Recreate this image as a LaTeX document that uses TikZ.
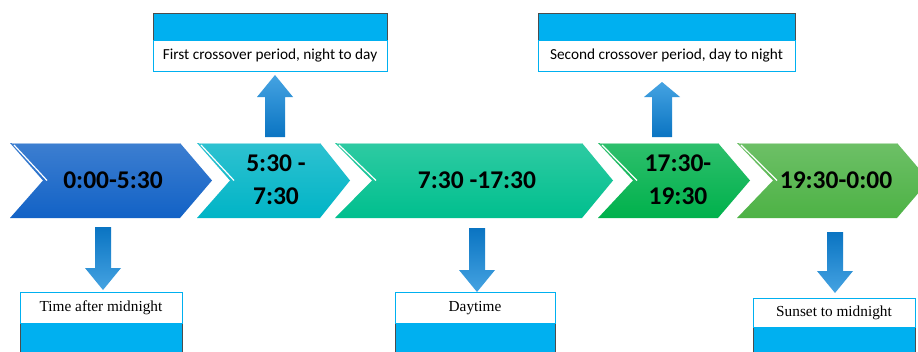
\documentclass[tikz,border=0pt]{standalone}
\usepackage{fontspec}
\setmainfont{Carlito}
\newfontfamily\serifnote{Liberation Serif}
\definecolor{chevA}{HTML}{1262C6}
\definecolor{chevB}{HTML}{00B4C6}
\definecolor{chevC}{HTML}{00BF8E}
\definecolor{chevD}{HTML}{00B14C}
\definecolor{chevE}{HTML}{4DB245}
\definecolor{barblue}{HTML}{00B0F0}
\definecolor{arrowlight}{HTML}{45A3E2}
\definecolor{arrowdark}{HTML}{0A74C2}
\begin{document}
\begin{tikzpicture}[x=1pt,y=-1pt,font=\fontsize{15.3}{18}\selectfont,
  periodtext/.style={font=\fontsize{25.5}{33}\selectfont\bfseries,align=center,inner sep=0pt},
  notebox/.style={draw=barblue,fill=white,line width=0.8pt,minimum height=31pt,inner sep=0pt},
  notebar/.style={draw=black!70,fill=barblue,line width=0.5pt}]
\clip(0,0)rectangle(918,351);
\fill[white](0,0)rectangle(918,351);
% chevrons
\foreach \l/\n/\r/\t/\c in {10/43/180/212/chevA,197/230/320/350/chevB,335/372/582/613/chevC,598/633/718/750/chevD,737/773/897/929/chevE}{
  \path[top color=\c!82!white,bottom color=\c](\l,143)--(\r,143)--(\t,180.5)--(\r,218)--(\l,218)--(\n,180.5)--cycle;
  \draw[white,line width=1.2pt](\l+4,145)--(\n+4,180.5);
  \draw[\c!40!white,line width=0.8pt](\l+2,143.5)--(\r,143.5);
}
\node[periodtext](p1)at(113,180){0:00-5:30};
\node[periodtext](p2)at(276,180){5:30 -\\7:30};
\node[periodtext](p3)at(477,180){7:30 -17:30};
\node[periodtext](p4)at(678,180){17:30-\\19:30};
\node[periodtext](p5)at(836,180){19:30-0:00};
% up arrows
\foreach \x/\tip in {275/75,662/82}{
  \path[top color=arrowlight,bottom color=arrowdark](\x-10,137)--(\x-10,97)--(\x-18,97)--(\x,\tip)--(\x+18,97)--(\x+10,97)--(\x+10,137)--cycle;
}
% down arrows
\foreach \x/\top/\tip in {103/227/290,477/228/292,835/232/293}{
  \path[top color=arrowdark,bottom color=arrowlight](\x-8,\top)--(\x-8,\tip-22)--(\x-18,\tip-22)--(\x,\tip)--(\x+18,\tip-22)--(\x+8,\tip-22)--(\x+8,\top)--cycle;
}
% top notes
\draw[notebar](153,13)rectangle(387,40);
\node[notebox,minimum width=234pt](n1)at(270,56){First crossover period, night to day};
\draw[notebar](538,13)rectangle(795,40);
\node[notebox,minimum width=257pt](n2)at(666.5,56){Second crossover period, day to night};
% bottom notes
\draw[notebar](20,323)rectangle(182,360);
\node[notebox,minimum width=162pt,font=\serifnote\fontsize{15.3}{17}\selectfont](n3)at(101,308){Time after midnight};
\draw[notebar](395,323)rectangle(555,360);
\node[notebox,minimum width=160pt,font=\serifnote\fontsize{15.3}{17}\selectfont](n4)at(475,308){Daytime};
\draw[notebar](753,327)rectangle(915,360);
\node[notebox,minimum width=162pt,minimum height=29pt,font=\serifnote\fontsize{15.3}{17}\selectfont](n5)at(834,312.5){Sunset to midnight};
\end{tikzpicture}
\end{document}
